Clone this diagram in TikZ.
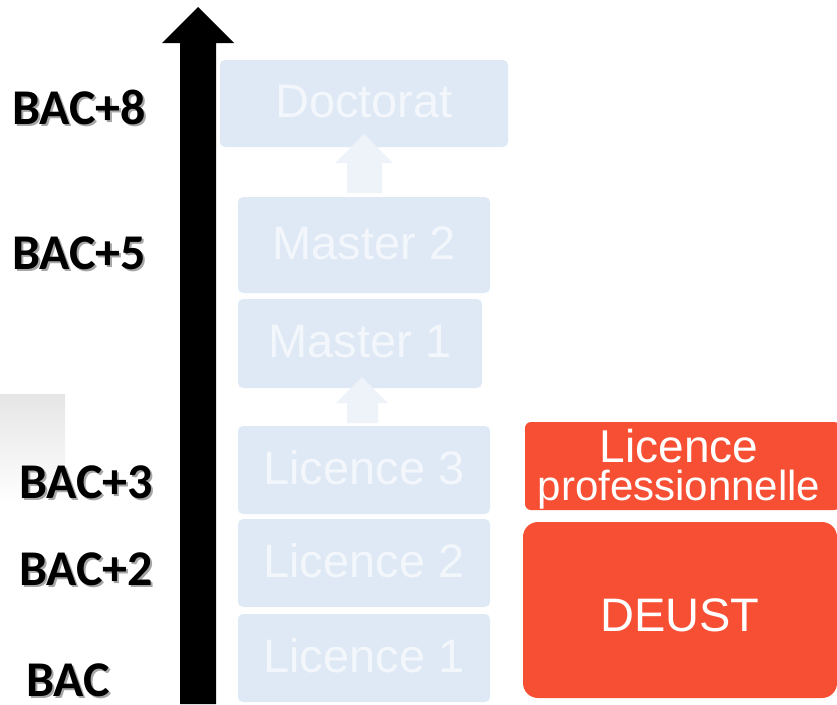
\documentclass[tikz,border=0pt]{standalone}
\usepackage{fontspec}
\setmainfont{Liberation Sans}
\newfontfamily\bacfont{Carlito}
\definecolor{lightbox}{RGB}{222,233,245}
\definecolor{lighttext}{RGB}{243,247,252}
\definecolor{lightarrow}{RGB}{238,243,250}
\definecolor{redbox}{RGB}{247,79,52}
\newcommand{\shadowed}[1]{\rlap{\kern2pt\raisebox{-2pt}{\textcolor{black!35}{#1}}}#1}
\tikzset{
  level/.style={fill=lightbox, rounded corners=5pt, inner sep=0pt, text=lighttext,
    font=\fontsize{47}{56}\selectfont, text height=34pt, text depth=6pt},
  probox/.style={fill=redbox, inner sep=0pt, text=white, font=\fontsize{47}{56}\selectfont},
  protext/.style={inner sep=0pt, text=white, anchor=base},
  bac/.style={font=\bacfont\bfseries\fontsize{50}{56}\selectfont, inner sep=0pt, anchor=base west},
}
\begin{document}
\begin{tikzpicture}[x=1pt,y=-1pt]
  \useasboundingbox (0,0) rectangle (837,704);
  \clip (0,0) rectangle (837,704);
  \shade[top color=black!10, bottom color=white] (0,394) rectangle (65,505);
  % main arrow
  \fill (180,704) -- (180,43) -- (162,43) -- (198,7) -- (234,43) -- (216,43) -- (216,704) -- cycle;
  % levels
  \node[level, minimum width=288pt, minimum height=87pt] (doc) at (364,103.5) {Doctorat};
  \node[level, minimum width=252pt, minimum height=96pt] (m2) at (364,245) {Master 2};
  \node[level, minimum width=244pt, minimum height=89pt] (m1) at (360,343.5) {Master 1};
  \node[level, minimum width=252pt, minimum height=88pt] (l3) at (364,470) {Licence 3};
  \node[level, minimum width=252pt, minimum height=88pt] (l2) at (364,563) {Licence 2};
  \node[level, minimum width=252pt, minimum height=88pt] (l1) at (364,658) {Licence 1};
  \fill[lightarrow] (347,193) -- (347,163) -- (335,163) -- (364,134) -- (393,163) -- (382,163) -- (382,193) -- cycle;
  \fill[lightarrow] (347,423) -- (347,403) -- (336,403) -- (362,377) -- (388,403) -- (378,403) -- (378,423) -- cycle;
  % professional tracks
  \node[probox, rounded corners=6pt, minimum width=315pt, minimum height=88pt] (lp) at (682.5,466) {};
  \node[protext, font=\fontsize{46}{55}\selectfont] (lic) at (679,462) {Licence};
  \node[protext, font=\fontsize{42}{50}\selectfont] (pro) at (679,500) {professionnelle};
  \node[probox, rounded corners=15pt, minimum width=314pt, minimum height=176pt,
    text height=43pt, text depth=0pt] (deust) at (680,610) {DEUST};
  % years
  \node[bac] (bac8) at (12,124) {\shadowed{BAC+8}};
  \node[bac] (bac5) at (12,269) {\shadowed{BAC+5}};
  \node[bac] (bac3) at (19,498) {\shadowed{BAC+3}};
  \node[bac] (bac2) at (19,585) {\shadowed{BAC+2}};
  \node[bac] (bac) at (26,696) {\shadowed{BAC}};
\end{tikzpicture}
\end{document}
